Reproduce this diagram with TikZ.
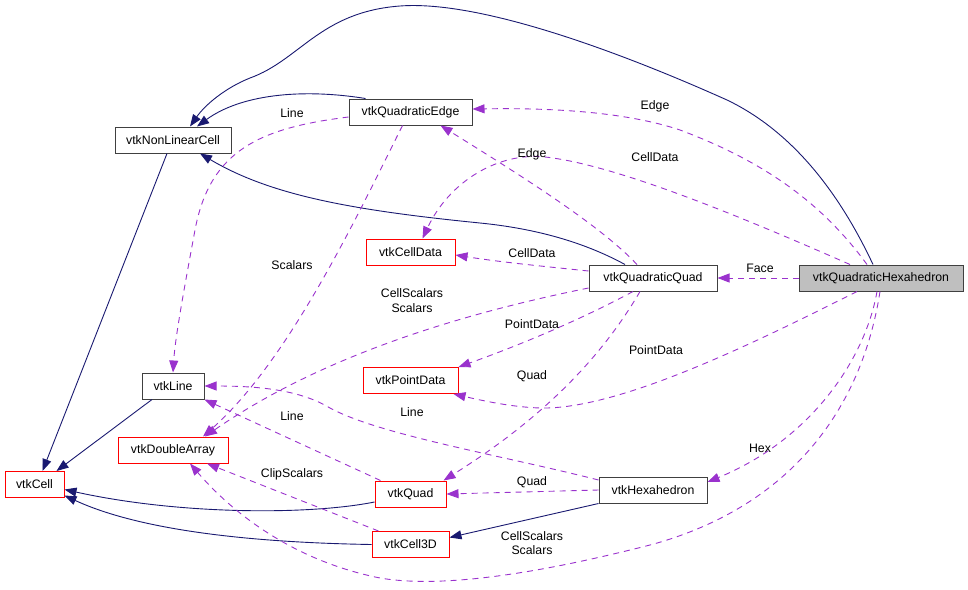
\documentclass[tikz,border=0pt]{standalone}
\usepackage{fontspec}
\setmainfont{Liberation Sans}
\usetikzlibrary{arrows.meta}
\definecolor{navy}{HTML}{191970}
\definecolor{purp}{HTML}{9A32CD}
\definecolor{bgray}{HTML}{404040}
\definecolor{hfill}{HTML}{BFBFBF}
\begin{document}
\begin{tikzpicture}[x=1pt,y=-1pt,
  box/.style={draw=bgray, line width=1pt, minimum height=26pt, inner sep=0pt, font=\fontsize{12.3}{13}\selectfont},
  redbox/.style={box, draw=red},
  inh/.style={draw=navy, line width=0.9pt, -{Triangle[length=12pt,width=9pt]}},
  use/.style={draw=purp, line width=0.9pt, dash pattern=on 6pt off 5pt, -{Triangle[length=12pt,width=9pt]}},
  lbl/.style={font=\fontsize{12.3}{14.5}\selectfont, inner sep=0pt, align=center}]
\useasboundingbox (0,0) rectangle (968,589);

% nodes
\node[box, fill=hfill, minimum width=164pt] (qhex) at (881,278) {vtkQuadraticHexahedron};
\node[box, minimum width=128pt] (qquad) at (653,278) {vtkQuadraticQuad};
\node[box, minimum width=123pt] (qedge) at (410.5,112) {vtkQuadraticEdge};
\node[box, minimum width=116pt] (nlc) at (173,140) {vtkNonLinearCell};
\node[redbox, minimum width=89pt] (celldata) at (410.5,252) {vtkCellData};
\node[box, minimum width=62pt] (line) at (173,386) {vtkLine};
\node[redbox, minimum width=110pt] (darr) at (173,450) {vtkDoubleArray};
\node[redbox, minimum width=59pt] (cell) at (34.5,484.5) {vtkCell};
\node[redbox, minimum width=95pt] (pdata) at (410.5,380.5) {vtkPointData};
\node[redbox, minimum width=71pt] (quad) at (410.5,494) {vtkQuad};
\node[redbox, minimum width=77pt] (cell3d) at (410.5,544.5) {vtkCell3D};
\node[box, minimum width=108pt] (hex) at (653,490) {vtkHexahedron};

% inheritance (solid)
\draw[inh] ([xshift=-8pt]qhex.north) .. controls (845,205) and (800,135) .. (727,100)
  .. controls (620,52) and (480,0) .. (400,6)
  .. controls (320,12) and (300,60) .. (250,78)
  .. controls (225,88) and (205,105) .. ([xshift=17pt]nlc.north);
\draw[inh] ([xshift=-45pt]qedge.north) .. controls (300,88) and (240,95) .. ([xshift=24pt]nlc.north);
\draw[inh] ([xshift=-28pt]qquad.north) .. controls (580,240) and (530,228) .. (480,223)
  .. controls (350,210) and (270,195) .. ([xshift=27pt]nlc.south);
\draw[inh] ([xshift=-6pt]nlc.south) -- ([xshift=8pt]cell.north);
\draw[inh] ([xshift=-21pt]line.south) -- ([xshift=22pt]cell.north);
\draw[inh] ([yshift=-8pt]quad.west) .. controls (310,515) and (180,515) .. ([yshift=-5pt]cell.east);
\draw[inh] (cell3d.west) .. controls (280,543) and (150,535) .. ([yshift=-11pt]cell.east);
\draw[inh] (hex.south west) -- ([yshift=7pt]cell3d.east);

% usage (dashed)
\draw[use] ([xshift=-14pt]qhex.north) .. controls (820,200) and (760,160) .. (680,130)
  .. controls (620,110) and (540,108) .. ([yshift=3pt]qedge.east);
\draw[use] ([xshift=-31pt]qhex.north) .. controls (760,225) and (620,165) .. (545,157)
  .. controls (500,152) and (450,180) .. ([xshift=12pt]celldata.north);
\draw[use] ([xshift=-16pt]qquad.north) .. controls (600,225) and (520,175) .. ([xshift=30pt]qedge.south);
\draw[use] ([yshift=7pt]qquad.west) .. controls (540,266) and (500,262) .. ([yshift=-3pt]celldata.east);
\draw[use] (qhex.west) -- (qquad.east);
\draw[use] ([yshift=-5pt]qedge.west) .. controls (260,128) and (210,150) .. (195,230)
  .. controls (182,300) and (175,340) .. (line.north);
\draw[use] ([xshift=-8pt]qedge.south) .. controls (360,210) and (290,360) .. ([xshift=30pt]darr.north);
\draw[use] ([yshift=-10pt]qquad.west) .. controls (480,310) and (330,350) .. ([xshift=32pt]darr.north);
\draw[use] ([xshift=-20pt]qquad.south) .. controls (580,320) and (520,345) .. (pdata.north east);
\draw[use] ([xshift=-13pt]qquad.south) .. controls (600,360) and (540,420) .. ([xshift=33pt]quad.north);
\draw[use] ([xshift=-24pt]qhex.south) .. controls (760,340) and (620,410) .. (540,408)
  .. controls (510,407) and (480,400) .. ([xshift=43pt]pdata.south);
\draw[use] ([yshift=10pt]hex.west) .. controls (500,455) and (380,435) .. (330,408)
  .. controls (300,390) and (260,386) .. (line.east);
\draw[use] ([xshift=-30pt]quad.north) -- (line.south east);
\draw[use] (hex.west) -- (quad.east);
\draw[use] ([xshift=-4pt]qhex.south) .. controls (865,360) and (810,440) .. ([yshift=8pt]hex.east);
\draw[use] ([xshift=-1pt]qhex.south) .. controls (860,420) and (780,510) .. (650,545)
  .. controls (560,568) and (450,590) .. (380,578)
  .. controls (290,560) and (230,510) .. ([xshift=17pt]darr.south);
\draw[use] ([xshift=-32pt]cell3d.north) -- ([xshift=34pt]darr.south);

% labels
\node[lbl] (l1) at (655,106) {Edge};
\node[lbl] (l2) at (655,157) {CellData};
\node[lbl] (l3) at (532,154) {Edge};
\node[lbl] (l4) at (532,253) {CellData};
\node[lbl] (l5) at (760,268) {Face};
\node[lbl] (l6) at (292,113) {Line};
\node[lbl] (l7) at (292,265) {Scalars};
\node[lbl] (l8) at (412,300.5) {CellScalars\\Scalars};
\node[lbl] (l9) at (532,324) {PointData};
\node[lbl] (l10) at (532,376) {Quad};
\node[lbl] (l11) at (656,350) {PointData};
\node[lbl] (l12) at (412,412) {Line};
\node[lbl] (l13) at (292,416) {Line};
\node[lbl] (l14) at (532,482) {Quad};
\node[lbl] (l15) at (760,448) {Hex};
\node[lbl] (l16) at (532,543) {CellScalars\\Scalars};
\node[lbl] (l17) at (292,474) {ClipScalars};
\end{tikzpicture}
\end{document}
